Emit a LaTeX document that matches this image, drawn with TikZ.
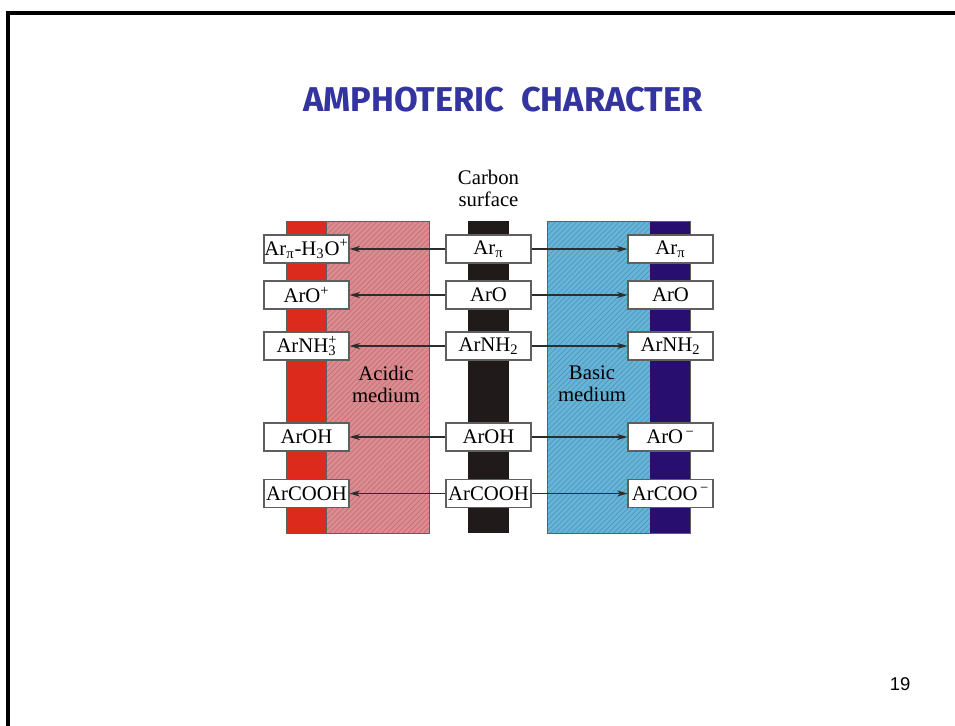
\documentclass[tikz,border=0pt]{standalone}
\usepackage{fontspec}
\setmainfont{Liberation Serif}
\newfontfamily\titlefont{Fira Sans}
\newfontfamily\pagefont{Liberation Sans}
\usepackage{tikz}
\usetikzlibrary{arrows.meta}
\usetikzlibrary{patterns}
\definecolor{acidred}{RGB}{220,42,28}
\definecolor{acidpink}{RGB}{218,140,144}
\definecolor{acidhatch}{RGB}{198,112,118}
\definecolor{basicblue}{RGB}{104,180,214}
\definecolor{basichatch}{RGB}{78,152,192}
\definecolor{basicdark}{RGB}{40,14,110}
\definecolor{carbonblack}{RGB}{32,26,26}
\definecolor{titleblue}{RGB}{52,52,160}
\definecolor{boxgray}{RGB}{95,95,95}
\definecolor{arrowgray}{RGB}{45,45,45}
\tikzset{
  species/.style={draw=boxgray, fill=white, line width=0.6pt,
    minimum width=1.7cm, minimum height=0.56cm, inner sep=0pt,
    font=\fontsize{11.8}{13}\selectfont},
  react/.style={draw=arrowgray, line width=0.7pt,
    -{Stealth[length=6pt,width=3.5pt]}},
  medium/.style={align=center, inner sep=0pt, font=\fontsize{11.8}{12.5}\selectfont},
}

\begin{document}
\begin{tikzpicture}[x=0.02cm, y=-0.02cm]
    \useasboundingbox (0,0) rectangle (955,725);
    \draw [line width=2.5pt] (8,727) -- (8,13) -- (957,13);

    \node (title) at (503,100) {\titlefont\bfseries\fontsize{19.6}{22}\selectfont\color{titleblue}AMPHOTERIC\ \ CHARACTER};

    % acidic side
    \fill [acidred] (286,221) rectangle (326,533);
    \fill [acidpink] (326,221) rectangle (429,533);
    \fill [pattern=north east lines, pattern color=acidhatch] (326,221) rectangle (429,533);
    \draw [boxgray, line width=0.5pt] (286,221) rectangle (429,533);
    \draw [boxgray, line width=0.5pt] (326,221) -- (326,533);

    % carbon
    \fill [carbonblack] (468,221) rectangle (509,533);

    % basic side
    \fill [basicblue] (547,221) rectangle (650,533);
    \fill [pattern=north east lines, pattern color=basichatch] (547,221) rectangle (650,533);
    \fill [basicdark] (650,221) rectangle (690,533);
    \draw [boxgray, line width=0.5pt] (547,221) rectangle (690,533);

    \node [medium] (carbon) at (488.5,188) {Carbon\\surface};
    \node [medium] (acidic) at (386,384) {Acidic\\medium};
    \node [medium] (basic) at (592,384) {Basic\\medium};

    % surface groups
    \node [species] (m1) at (488.5,249) {Ar\textsubscript{π}};
    \node [species] (m2) at (488.5,295) {ArO};
    \node [species] (m3) at (488.5,346) {ArNH\textsubscript{2}};
    \node [species] (m4) at (488.5,437) {ArOH};
    \node [species] (m5) at (488.5,493.5) {ArCOOH};

    \node [species] (a1) at (306.5,249) {Ar\textsubscript{π}-H\textsubscript{3}O\textsuperscript{+}};
    \node [species] (a2) at (306.5,295) {ArO\textsuperscript{+}};
    \node [species] (a3) at (306.5,346) {ArNH\rlap{\textsuperscript{+}}\textsubscript{3}};
    \node [species] (a4) at (306.5,437) {ArOH};
    \node [species] (a5) at (306.5,493.5) {ArCOOH};

    \node [species] (b1) at (670.5,249) {Ar\textsubscript{π}};
    \node [species] (b2) at (670.5,295) {ArO};
    \node [species] (b3) at (670.5,346) {ArNH\textsubscript{2}};
    \node [species] (b4) at (670.5,437) {ArO\textsuperscript{\,−}};
    \node [species] (b5) at (670.5,493.5) {ArCOO\textsuperscript{\,−}};

    \draw [react] (m1) -- (a1);
    \draw [react] (m2) -- (a2);
    \draw [react] (m3) -- (a3);
    \draw [react] (m4) -- (a4);
    \draw [react] (m5) -- (a5);

    \draw [react] (m1) -- (b1);
    \draw [react] (m2) -- (b2);
    \draw [react] (m3) -- (b3);
    \draw [react] (m4) -- (b4);
    \draw [react] (m5) -- (b5);

    \node (page) at (900,684) {\pagefont\fontsize{10.5}{12}\selectfont 19};
\end{tikzpicture}
\end{document}
